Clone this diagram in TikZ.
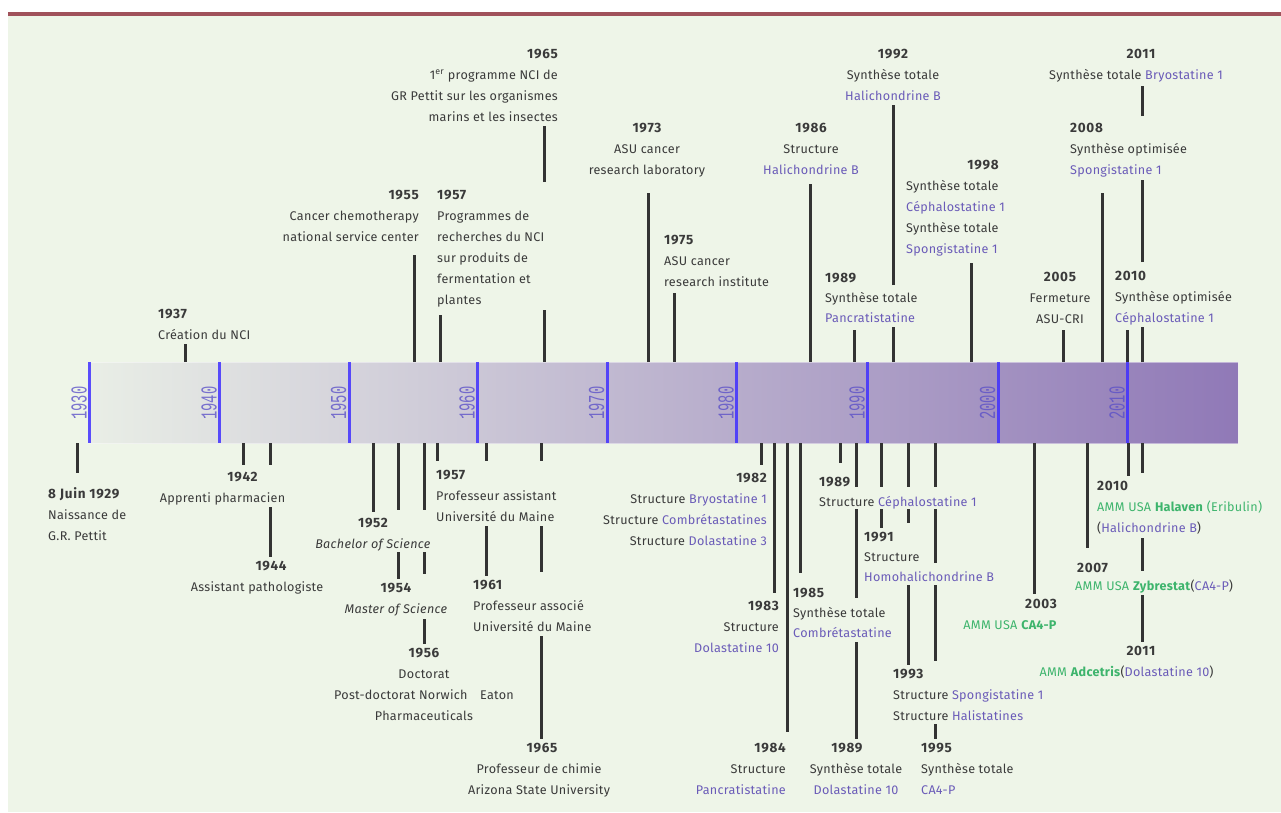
\documentclass[tikz,border=0pt]{standalone}
\usepackage{fontspec}
\setmainfont{Fira Sans}[LetterSpace=2.3]
\newfontfamily\bandfont{Liberation Mono}
\usetikzlibrary{calc}
\definecolor{bgc}{HTML}{EEF5E8}
\definecolor{barc}{HTML}{A0525B}
\definecolor{txt}{HTML}{3A3A3A}
\definecolor{pur}{HTML}{6A5BB8}
\definecolor{grn}{HTML}{3DB46C}
\definecolor{dec}{HTML}{4030FF}
\definecolor{declbl}{HTML}{5A4FC8}
\definecolor{tickc}{HTML}{333333}
\definecolor{bandL}{HTML}{E9EEE6}
\definecolor{bandR}{HTML}{9079B7}
\newcommand\yf{\fontsize{13.5}{21}\selectfont\bfseries\addfontfeature{LetterSpace=5}}
\newcommand\yr[1]{{\yf #1}}
\newcommand\pu[1]{\textcolor{pur}{#1}}
\newcommand\gr[1]{\textcolor{grn}{#1}}
\newcommand\ryr[2]{\setbox0=\hbox{#2}\hbox to \wd0{\hfill{\yf #1}}}
\tikzset{
  lbl/.style={inner xsep=0pt, inner ysep=4pt, text=txt, font=\fontsize{12.6}{21}\selectfont},
  L/.style={lbl, align=left, anchor=north west},
  R/.style={lbl, align=right, anchor=north east},
  C/.style={lbl, align=center, anchor=north},
  bs/.style={font=\fontsize{12.6}{#1}\selectfont},
  tick/.style={draw=tickc, line width=3pt},
  decline/.style={draw=dec, line width=3pt, draw opacity=0.85},
  declbl/.style={rotate=90, text=declbl, opacity=0.78, inner sep=0pt, font=\bandfont\fontsize{13.8}{14}\selectfont}
}
\begin{document}
\begin{tikzpicture}[x=1pt,y=-1pt]
\useasboundingbox (0,0) rectangle (1281,812);
\fill[white] (0,0) rectangle (1281,812);
\fill[bgc] (8,16) rectangle (1281,812);
\fill[barc] (8,11.5) rectangle (1281,16.2);
% band
\shade[left color=bandL, right color=bandR] (88,362) rectangle (1238,443);
\draw[white, draw opacity=0.45, line width=0.8pt] (88,362) rectangle (1238,443);
\foreach \yy/\xx in {1930/89.5,1940/219.5,1950/349,1960/477.5,1970/607,1980/736.5,1990/867.5,2000/998,2010/1127.7}{
  \draw[decline] (\xx,362) -- (\xx,443);
  \node[declbl] (d\yy) at (\xx-10.5,403) {\scalebox{1}[1.65]{\yy}};
}
% ---------- top labels ----------
\node[L] (n1937) at (158,305) {\yr{1937}\\Création du NCI};
\node[R] (n1955) at (419,185.7) {\yr{1955}\\Cancer chemotherapy\\national service center};
\node[L] (n1957t) at (437,185.7) {\yr{1957}\\Programmes de\\recherches du NCI\\sur produits de\\fermentation et\\plantes};
\node[R] (n1965t) at (558,44.7) {\yr{1965}\\1\textsuperscript{er} programme NCI de\\GR Pettit sur les organismes\\marins et les insectes};
\node[C] (n1973) at (647,119.4) {\yr{1973}\\ASU cancer\\research laboratory};
\node[L] (n1975) at (664,231.4) {\yr{1975}\\ASU cancer\\research institute};
\node[C] (n1986) at (811,119.4) {\yr{1986}\\Structure\\\pu{Halichondrine B}};
\node[C] (n1992) at (893,44.7) {\yr{1992}\\Synthèse totale\\\pu{Halichondrine B}};
\node[L,bs=20] (n1989t) at (825,268.7) {\yr{1989}\\Synthèse totale\\\pu{Pancratistatine}};
\node[L] (n1998) at (906,155.7) {\ryr{1998}{Synthèse totale}\\Synthèse totale\\\pu{Céphalostatine 1}\\Synthèse totale\\\pu{Spongistatine 1}};
\node[C] (n2005) at (1060,268.4) {\yr{2005}\\Fermeture\\ASU-CRI};
\node[L] (n2008) at (1070,119.4) {\yr{2008}\\Synthèse optimisée\\\pu{Spongistatine 1}};
\node[L] (n2010t) at (1115,267.4) {\yr{2010}\\Synthèse optimisée\\\pu{Céphalostatine 1}};
\node[C] (n2011t) at (1136,44.7) {\hspace*{10pt}\yr{2011}\\Synthèse totale \pu{Bryostatine 1}};
% ---------- bottom labels ----------
\node[L] (n1929) at (48,483.4) {\yr{8 Juin 1929}\\Naissance de\\G.R. Pettit};
\node[C] (n1942) at (222.5,468) {\hspace*{40pt}\yr{1942}\\Apprenti pharmacien};
\node[C] (n1944) at (257,557) {\hspace*{28pt}\yr{1944}\\Assistant pathologiste};
\node[C] (n1952) at (373,513.7) {\yr{1952}\\\textit{Bachelor of Science}};
\node[C] (n1954) at (396,579) {\yr{1954}\\\textit{Master of Science}};
\node[C] (n1956) at (424,644) {\yr{1956}\\Doctorat\\Post-doctorat Norwich\quad Eaton\\Pharmaceuticals};
\node[L] (n1957b) at (436,466.4) {\yr{1957}\\Professeur assistant\\Université du Maine};
\node[L] (n1961) at (473,576) {\yr{1961}\\Professeur associé\\Université du Maine};
\node[C] (n1965b) at (539,739.4) {\hspace*{6pt}\yr{1965}\\Professeur de chimie\\Arizona State University};
\node[R] (n1982) at (767,469.4) {\yr{1982}\\Structure \pu{Bryostatine 1}\\Structure \pu{Combrétastatines}\\Structure \pu{Dolastatine 3}};
\node[R] (n1983) at (779,597) {\yr{1983}\\Structure\\\pu{Dolastatine 10}};
\node[R] (n1984) at (786,738.7) {\yr{1984}\\Structure\\\pu{Pancratistatine}};
\node[L,bs=20] (n1985) at (793,584) {\yr{1985}\\Synthèse totale\\\pu{Combrétastatine}};
\node[L,bs=19.5] (n1989a) at (819,473) {\yr{1989}\\Structure \pu{Céphalostatine 1}};
\node[C] (n1989b) at (856,738.7) {\yr{1989}\hspace*{18pt}\\Synthèse totale\\\pu{Dolastatine 10}};
\node[L,bs=20] (n1991) at (864,528) {\yr{1991}\\Structure\\\pu{Homohalichondrine B}};
\node[L] (n1993) at (893,664.7) {\yr{1993}\\Structure \pu{Spongistatine 1}\\Structure \pu{Halistatines}};
\node[L] (n1995) at (921,738.7) {\yr{1995}\\Synthèse totale\\\pu{CA4-P}};
\node[R,bs=20.5] (n2003) at (1057,595) {\yr{2003}\\\gr{AMM USA \textbf{CA4-P}}};
\node[L,bs=18] (n2007) at (1075,558.7) {\hspace*{2pt}\yr{2007}\\\gr{AMM USA \textbf{Zybrestat}}(\pu{CA4-P})};
\node[L] (n2010b) at (1097,477.4) {\yr{2010}\\\gr{AMM USA \textbf{Halaven} (Eribulin)}\\(\pu{Halichondrine B})};
\node[C] (n2011b) at (1126.5,642.4) {\hspace*{29pt}\yr{2011}\\\gr{AMM \textbf{Adcetris}}(\pu{Dolastatine 10})};
% ---------- tick anchors on band ----------
\foreach \nm/\xx in {1937/185.5,1955/414,1957t/440,1965t/544,1973/648,1975/674,1986/810.5,1989t/854,1992/893.5,1998/971,2005/1063.5,2008/1102.5,2010t/1127.5,2011t/1142.5}
  \coordinate (t\nm) at (\xx,362);
\foreach \nm/\xx in {1929/77.5,1942/243,1944/270,1952/373,1954/398,1956/424,1957b/437,1961/486,1965b/541,1982/761.5,1983/774,1984/787,1985/800,1989a/840,1989b/856,1991/881,1993/908,1995/935,2003/1034,2007/1087,2010b/1128,2011b/1142.5}
  \coordinate (b\nm) at (\xx,443);
% ---------- top ticks ----------
\draw[tick] (t1937) -- (n1937.south -| t1937);
\draw[tick,shorten >=9.6pt] (t1955) -- (n1955.south -| t1955);
\draw[tick,shorten >=3.8pt] (t1957t) -- (n1957t.south -| t1957t);
\draw[tick] (t1965t) -- (544,310) (544,182) -- (n1965t.south -| t1965t);
\draw[tick,shorten >=11pt] (t1973) -- (n1973.south -| t1973);
\draw[tick,shorten >=2pt] (t1975) -- (n1975.south -| t1975);
\draw[tick,shorten >=5pt] (t1986) -- (n1986.south -| t1986);
\draw[tick,shorten >=3.6pt] (t1989t) -- (n1989t.south -| t1989t);
\draw[tick] (t1992) -- (893.5,327) (893.5,285) -- (n1992.south -| t1992);
\draw[tick,shorten >=2.8pt] (t1998) -- (n1998.south -| t1998);
\draw[tick,shorten >=2pt] (t2005) -- (n2005.south -| t2005);
\draw[tick,shorten >=11pt] (t2008) -- (n2008.south -| t2008);
\draw[tick] (t2010t) -- (n2010t.south -| t2010t);
\draw[tick] (t2011t) -- (1142.5,327) (1142.5,262) -- (1142.5,180) (1142.5,116) -- (n2011t.south -| t2011t);
% ---------- bottom ticks ----------
\draw[tick,shorten >=10.4pt] (b1929) -- (n1929.north -| b1929);
\draw[tick,shorten >=3pt] (b1942) -- (n1942.north -| b1942);
\draw[tick] (b1944) -- (270,465) (270,507) -- (n1944.north -| b1944);
\draw[tick,shorten >=1.7pt] (b1952) -- (n1952.north -| b1952);
\draw[tick] (b1954) -- (398,510) (398,552) -- (n1954.north -| b1954);
\draw[tick] (b1956) -- (424,510) (424,552) -- (424,574) (424,619) -- (n1956.north -| b1956);
\draw[tick,shorten >=5pt] (b1957b) -- (n1957b.north -| b1957b);
\draw[tick] (b1961) -- (486,461) (486,526) -- (n1961.north -| b1961);
\draw[tick] (b1965b) -- (541,461) (541,526) -- (541,572) (541,636) -- (n1965b.north -| b1965b);
\draw[tick,shorten >=4.4pt] (b1982) -- (n1982.north -| b1982);
\draw[tick,shorten >=4pt] (b1983) -- (n1983.north -| b1983);
\draw[tick,shorten >=6.7pt] (b1984) -- (n1984.north -| b1984);
\draw[tick,shorten >=11pt] (b1985) -- (n1985.north -| b1985);
\draw[tick,shorten >=10pt] (b1989a) -- (n1989a.north -| b1989a);
\draw[tick] (b1989b) -- (856,487) (856,509) -- (856,598) (856,642) -- (n1989b.north -| b1989b);
\draw[tick] (b1991) -- (881,487) (881,509) -- (n1991.north -| b1991);
\draw[tick] (b1993) -- (908,487) (908,509) -- (908,523) (908,585) -- (n1993.north -| b1993);
\draw[tick] (b1995) -- (935,487) (935,509) -- (935,563) (935,585) -- (935,661) (935,724) -- (n1995.north -| b1995);
\draw[tick,shorten >=1pt] (b2003) -- (n2003.north -| b2003);
\draw[tick,shorten >=10.7pt] (b2007) -- (n2007.north -| b2007);
\draw[tick,shorten >=1.4pt] (b2010b) -- (n2010b.north -| b2010b);
\draw[tick] (b2011b) -- (1142.5,473) (1142.5,538) -- (1142.5,571) (1142.5,595) -- (n2011b.north -| b2011b);
\end{tikzpicture}
\end{document}
